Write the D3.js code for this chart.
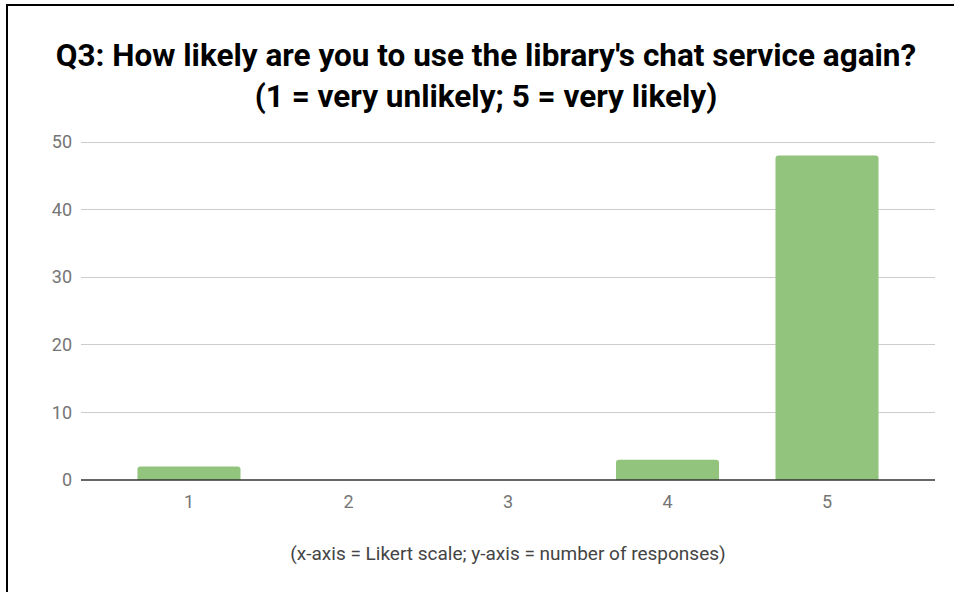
<!DOCTYPE html>
<html><head><meta charset="utf-8">
<script src="https://cdn.jsdelivr.net/npm/d3@7"></script>
<style>body{margin:0;background:#fff;}svg{display:block;font-family:Roboto,sans-serif;}</style>
</head><body><svg id="c" width="954" height="592"></svg>
<script>
const categories = ["1","2","3","4","5"];
const values = [2, 0, 0, 3, 48];
const yTicks = [0,10,20,30,40,50];
const titleLines = ["Q3: How likely are you to use the library's chat service again?", "(1 = very unlikely; 5 = very likely)"];
const xTitle = "(x-axis = Likert scale; y-axis = number of responses)";

const svg = d3.select("#c");
svg.append("rect").attr("width",954).attr("height",592).attr("fill","#fff");
// frame
svg.append("line").attr("x1",7).attr("x2",7).attr("y1",4).attr("y2",592).attr("stroke","#000").attr("stroke-width",2);
svg.append("line").attr("x1",6).attr("x2",954).attr("y1",5).attr("y2",5).attr("stroke","#000").attr("stroke-width",2);

const pLeft=81, pRight=935, pTop=142, pBottom=480;
const x = d3.scaleBand().domain(categories).range([pLeft,pRight]).paddingInner(0.354).paddingOuter(0.354);
const y = d3.scaleLinear().domain([0,50]).range([pBottom,pTop]);

// grid
svg.append("g").selectAll("line").data(yTicks.filter(d=>d>0)).join("line")
  .attr("x1",pLeft).attr("x2",pRight).attr("y1",d=>y(d)).attr("y2",d=>y(d))
  .attr("stroke","#ccc").attr("stroke-width",1).attr("shape-rendering","crispEdges");

// y labels
const yAxis = d3.axisLeft(y).tickValues(yTicks).tickSize(0).tickPadding(9);
const gy = svg.append("g").attr("transform",`translate(${pLeft},0)`).call(yAxis);
gy.select(".domain").remove();
gy.selectAll("text").attr("fill","#757575").style("font-size","18px").style("font-family","Roboto");

// bars with rounded top corners
const r = 3;
function barPath(d,i){
  const x0 = x(categories[i]), w = x.bandwidth(), y0 = y(d), yb = y(0);
  const h = yb - y0;
  if (h <= 0) return "";
  const rr = Math.min(r,h,w/2);
  return `M${x0},${yb}V${y0+rr}Q${x0},${y0} ${x0+rr},${y0}H${x0+w-rr}Q${x0+w},${y0} ${x0+w},${y0+rr}V${yb}Z`;
}
svg.append("g").selectAll("path").data(values).join("path")
  .attr("d",barPath).attr("fill","#93c47d");

// x axis
const xAxis = d3.axisBottom(x).tickSize(0).tickPadding(15);
const gx = svg.append("g").attr("transform",`translate(0,${pBottom})`).call(xAxis);
gx.select(".domain").remove();
gx.selectAll("text").attr("fill","#757575").style("font-size","18px").style("font-family","Roboto");
svg.append("line").attr("x1",pLeft).attr("x2",pRight).attr("y1",y(0)).attr("y2",y(0)).attr("stroke","#333").attr("stroke-width",1.3);

// title
svg.append("g").selectAll("text").data(titleLines).join("text")
  .attr("x",486).attr("y",(d,i)=>66+i*41).attr("text-anchor","middle")
  .attr("fill","#000").style("font-weight","bold").style("font-size","31.5px").text(d=>d);

svg.append("text").attr("x",508).attr("y",560).attr("text-anchor","middle")
  .attr("fill","#444").style("font-size","19px").text(xTitle);
</script></body></html>
